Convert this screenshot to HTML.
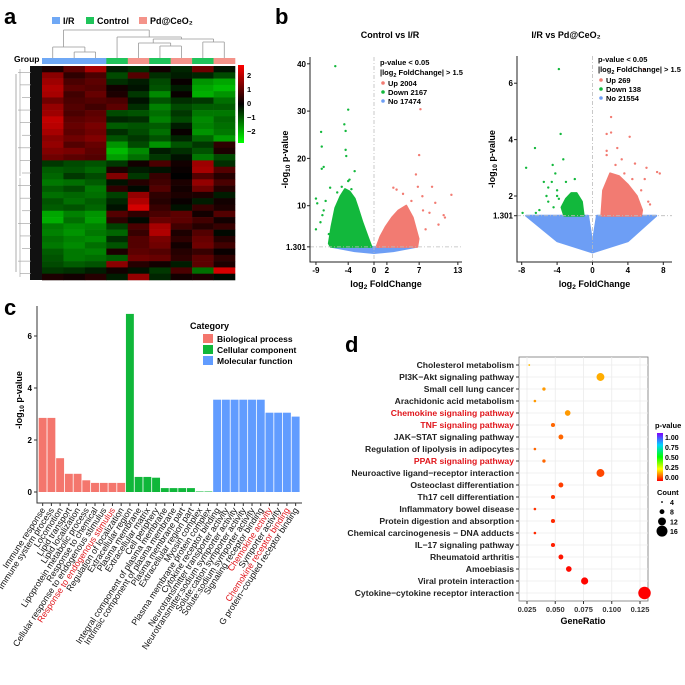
<!DOCTYPE html>
<html><head><meta charset="utf-8"><style>
html,body{margin:0;padding:0;background:#fff;}
svg{display:block;font-family:"Liberation Sans",sans-serif;}
</style></head><body>
<svg id="fig" width="685" height="685" viewBox="0 0 685 685">
<g id="pa"></g>
<g id="pb"></g>
<g id="pc"></g>
<g id="pd"></g>
</svg>
<script>
// ---------- Panel a data ----------
const hmGroups = ["I/R","I/R","I/R","Control","Pd@CeO2","Control","Pd@CeO2","Control","Pd@CeO2"];
const hmRows = [
[0.3,1.0,1.8,-0.3,-0.5,0.2,-0.4,1.2,-0.2],
[1.5,0.5,0.8,-0.8,0.9,-0.5,-0.3,-0.4,-0.8],
[1.7,0.8,1.0,-0.5,-0.3,-0.8,0.1,-1.6,-1.8],
[1.9,1.0,0.9,0.2,-0.2,-0.9,-0.3,-1.8,-2.0],
[1.8,0.7,1.1,0.3,-0.6,-1.5,0.1,-1.9,-1.6],
[1.2,0.8,0.9,0.8,-0.2,-0.9,-0.5,-0.6,-1.2],
[1.6,0.9,0.7,1.0,-0.5,-1.4,-0.8,-1.0,-1.0],
[1.7,0.8,1.0,-0.8,-0.9,-1.2,-0.6,-1.3,-1.3],
[2.1,1.0,1.1,-0.4,-0.5,-1.4,-0.8,-1.5,-1.1],
[2.0,1.1,1.3,-1.0,-0.9,-1.0,-0.3,-1.4,-1.2],
[1.8,1.0,1.2,-0.5,-0.8,-1.2,0.1,-1.6,-1.3],
[1.5,1.2,1.4,-0.9,-0.6,-0.9,-0.4,-1.1,-1.7],
[1.6,0.9,1.1,-1.6,-0.8,-1.6,-0.9,-0.6,0.5],
[1.4,1.3,1.0,-2.0,-1.5,-0.3,-0.5,-0.9,0.3],
[1.2,1.0,0.9,-1.7,-1.2,-0.6,-0.2,-1.3,-0.8],
[-0.6,-0.8,-0.9,-0.6,0.2,0.8,0.2,1.7,-0.5],
[-1.0,-0.9,-1.1,0.3,-0.3,-0.2,0.1,1.8,0.9],
[-1.1,-0.6,-0.8,1.4,-0.6,0.6,0.0,0.9,0.4],
[-1.3,-1.2,-1.0,-0.2,0.4,0.7,0.3,1.6,0.8],
[-1.0,-0.8,-1.3,0.5,-0.1,0.9,0.2,1.2,0.4],
[-1.2,-1.1,-1.2,-0.7,1.6,0.5,0.3,0.3,-0.3],
[-0.9,-1.2,-1.0,-0.4,1.9,0.4,0.1,-0.3,0.2],
[-1.0,-0.9,-1.1,-0.2,2.3,0.6,-0.2,0.6,0.3],
[-1.8,-1.4,-1.6,0.9,0.5,0.8,1.0,0.2,0.9],
[-1.9,-1.2,-1.7,0.5,-0.1,1.1,1.0,0.7,0.2],
[-1.3,-1.5,-1.4,-0.7,0.8,1.8,0.7,0.4,0.6],
[-1.4,-1.6,-1.3,-1.1,0.6,1.9,0.3,0.9,-0.1],
[-1.2,-1.4,-1.5,-0.5,0.9,1.3,0.5,1.1,0.4],
[-1.3,-1.5,-1.2,-0.9,0.9,1.2,0.2,1.2,0.7],
[-1.0,-1.3,-1.4,0.3,1.0,0.9,0.4,0.6,0.1],
[-0.9,-1.3,-1.2,-1.0,1.2,1.1,0.5,1.0,0.5],
[-0.8,-1.0,-0.9,1.5,0.4,0.2,-0.3,1.0,0.3],
[-0.6,-0.5,-0.3,0.2,-0.2,-0.6,0.8,-1.2,2.3],
[0.3,0.2,0.4,-0.3,1.6,-0.4,0.2,0.3,-0.1]
];
const hmTicks = [2,1,0,-1,-2];

// ---------- Panel b data ----------
const v1GreenCloud = [[-0.4,1.3],[-1,3.5],[-1.8,6.5],[-2.5,9.5],[-3,11.5],[-3.8,13],[-4.5,13.5],[-5.2,12],[-6,9.5],[-6.6,5.5],[-7,2],[-6.7,1.3]];
const v1RedCloud = [[0.4,1.3],[1,3.5],[1.8,5.5],[2.8,7.5],[3.8,9],[5,10],[6,7.5],[6.9,3],[6.7,1.3]];
const v1BlueCloud = [[-6.5,1.3],[6.5,1.3],[3,0.4],[0,0],[-3,0.4]];
const v1GreenPts = [[-6,39.5],[-4,30.3],[-4.6,27.2],[-4.4,25.8],[-8.2,25.6],[-8.1,22.5],[-4.4,21.8],[-4.3,20.5],[-7.8,18.2],[-8.1,17.8],[-3,17.3],[-4,15.2],[-3.8,15.5],[-9,11.5],[-8.8,10.5],[-6.8,13.8],[-9,5],[-8.3,6.5],[-7,4],[-5.7,12.8],[-7.8,9],[-6.5,2],[-7.5,11],[-8,8],[-5,14],[-3.5,13.5]];
const v1RedPts = [[7.2,30.4],[7,20.7],[6.5,16.6],[6.8,14],[9,14],[3,13.8],[3.5,13.4],[12,12.3],[10.8,8],[11,7.5],[8.6,8.5],[9.5,10.6],[10,6],[5.8,11],[7.6,9],[8,5],[7.5,12],[4.5,12.5]];
const v1Legend = ["Up 2004","Down 2167","No 17474"];
const v1XTicks = [-9,-4,0,2,7,13];
const v1YTicks = [1.301,10,20,30,40];

const v2GreenCloud = [[-1,1.3],[-1.2,1.8],[-1.8,2.1],[-2.4,2.1],[-3,1.9],[-3.5,1.6],[-3.2,1.3]];
const v2RedCloud = [[1,1.3],[1.2,2.2],[2,2.8],[3,2.7],[4,2.4],[5,2],[5.6,1.5],[5.5,1.3]];
const v2BlueCloud = [[-7.5,1.3],[-0.5,1.3],[0,0.3],[0.5,1.3],[7.2,1.3],[4,0.4],[0,0],[-4,0.4]];
const v2GreenPts = [[-3.8,6.5],[-3.6,4.2],[-6.5,3.7],[-3.3,3.3],[-4.5,3.1],[-7.5,3],[-4.2,2.8],[-2,2.6],[-5.5,2.5],[-3,2.5],[-5,2.3],[-4,2.2],[-6,1.5],[-7.9,1.4],[-6.4,1.4],[-4,2.0],[-5,1.8],[-1.5,1.7],[-4.6,2.5],[-5.2,2.0],[-4.4,1.6],[-3.8,1.9]];
const v2RedPts = [[5.8,6.5],[2.1,4.8],[1.6,4.2],[2.1,4.25],[4.2,4.1],[2.8,3.7],[1.6,3.6],[1.6,3.45],[3.3,3.3],[4.8,3.15],[6.1,3.0],[7.3,2.85],[7.6,2.8],[3.6,2.8],[5.9,2.6],[6.3,1.8],[6.5,1.7],[5.5,2.2],[4.5,2.6],[2.6,3.1]];
const v2Legend = ["Up 269","Down 138","No 21554"];
const v2XTicks = [-8,-4,0,4,8];
const v2YTicks = [1.301,2,4,6];

// ---------- Panel c data ----------
const goTerms = ["Immune response","Immune system process","Locomotion","Lipid transport","Lipid localization","Lipoprotein metabolic process","Response to chemical","Cellular response to endogenous stimulus","Response to endogenous stimulus","Regulation of localization","Extracellular region","Plasma membrane","Extracellular matrix","Cell periphery","Integral component of plasma membrane","Intrinsic component of plasma membrane","Plasma membrane part","Extracellular region part","Myosin complex","Plasma membrane protein complex","Cytokine receptor binding","Neurotransmitter transporter activity","Neurotransmitter:sodium symporter activity","Solute:cation symporter activity","Solute:sodium symporter activity","Signaling receptor binding","Chemokine activity","Symporter activity","Chemokine receptor binding","G protein\u2212coupled receptor binding"];
const goValues = [2.85,2.85,1.3,0.7,0.7,0.45,0.35,0.35,0.35,0.35, 6.85,0.58,0.58,0.55,0.15,0.15,0.15,0.15,0.02,0.02, 3.55,3.55,3.55,3.55,3.55,3.55,3.05,3.05,3.05,2.9];
const goCats = ["BP","BP","BP","BP","BP","BP","BP","BP","BP","BP","CC","CC","CC","CC","CC","CC","CC","CC","CC","CC","MF","MF","MF","MF","MF","MF","MF","MF","MF","MF"];
const goHighlight = [8,26,28];
const goYTicks = [0,2,4,6];

// ---------- Panel d data ----------
const kPaths = ["Cholesterol metabolism","PI3K\u2212Akt signaling pathway","Small cell lung cancer","Arachidonic acid metabolism","Chemokine signaling pathway","TNF signaling pathway","JAK\u2212STAT signaling pathway","Regulation of lipolysis in adipocytes","PPAR signaling pathway","Neuroactive ligand\u2212receptor interaction","Osteoclast differentiation","Th17 cell differentiation","Inflammatory bowel disease","Protein digestion and absorption","Chemical carcinogenesis \u2212 DNA adducts","IL\u221217 signaling pathway","Rheumatoid arthritis","Amoebiasis","Viral protein interaction","Cytokine\u2212cytokine receptor interaction"];
const kRatio = [0.027,0.090,0.040,0.032,0.061,0.048,0.055,0.032,0.040,0.090,0.055,0.048,0.032,0.048,0.032,0.048,0.055,0.062,0.076,0.129];
const kCount = [4,12,6,5,9,7,8,5,6,12,8,7,5,7,5,7,8,9,11,18];
const kP = [0.18,0.17,0.15,0.15,0.15,0.1,0.1,0.1,0.1,0.07,0.06,0.05,0.05,0.04,0.04,0.03,0.02,0.01,0.005,0.0];
const kRed = [4,5,8];
const kXTicks = [0.025,0.050,0.075,0.100,0.125];
const kPTicks = [1.00,0.75,0.50,0.25,0.00];
const kCountTicks = [4,8,12,16];

// ---------- helpers ----------
const NS="http://www.w3.org/2000/svg";
function mk(parent,tag,attrs,text){const e=document.createElementNS(NS,tag);for(const k in attrs)e.setAttribute(k,attrs[k]);if(text!==undefined)e.textContent=text;parent.appendChild(e);return e;}
function nm(e,n){return e;}

// ---------- Panel a ----------
(function(){
const g=document.getElementById('pa');
nm(mk(g,'text',{x:4,y:24,'font-size':22,'font-weight':'bold'},'a'),'panel-label-a');
const legCols=[["I/R","#6fa8f5",52],["Control","#1fc45a",86],["Pd@CeO\u2082","#f4938a",139]];
legCols.forEach(l=>{nm(mk(g,'rect',{x:l[2],y:17,width:8,height:7,fill:l[1]}),'legend-swatch');nm(mk(g,'text',{x:l[2]+11,y:24,'font-size':9,'font-weight':'bold'},l[0]),'legend-entry');});
const X0=42,X1=235,Y0=66,Y1=280,cw=(X1-X0)/hmGroups.length;
const gc={"I/R":"#6fa8f5","Control":"#1fc45a","Pd@CeO2":"#f4938a"};
nm(mk(g,'text',{x:14,y:62,'font-size':8.5,'font-weight':'bold'},'Group'),'group-label');
hmGroups.forEach((grp,i)=>{nm(mk(g,'rect',{x:X0+i*cw,y:58,width:cw+0.3,height:6,fill:gc[grp]}),'group-bar-'+i);});
const cx=i=>X0+cw*(i+0.5);
const dl=[[cx(1),52,cx(2),52],[cx(1),52,cx(1),58],[cx(2),52,cx(2),58],
[cx(0),47,(cx(1)+cx(2))/2,47],[cx(0),47,cx(0),58],[(cx(1)+cx(2))/2,47,(cx(1)+cx(2))/2,52],
[cx(5),46,cx(6),46],[cx(5),46,cx(5),58],[cx(6),46,cx(6),58],
[cx(4),43,(cx(5)+cx(6))/2,43],[cx(4),43,cx(4),58],[(cx(5)+cx(6))/2,43,(cx(5)+cx(6))/2,46],
[cx(7),42,cx(8),42],[cx(7),42,cx(7),58],[cx(8),42,cx(8),58],
[(cx(4)+cx(5))/2+4,39,(cx(7)+cx(8))/2,39],[(cx(4)+cx(5))/2+4,39,(cx(4)+cx(5))/2+4,43],[(cx(7)+cx(8))/2,39,(cx(7)+cx(8))/2,42],
[cx(3),37,(cx(5)+cx(7))/2,37],[cx(3),37,cx(3),58],[(cx(5)+cx(7))/2,37,(cx(5)+cx(7))/2,39],
[(cx(0)+cx(1))/2,30,(cx(3)+cx(6))/2,30],[(cx(0)+cx(1))/2,30,(cx(0)+cx(1))/2,47],[(cx(3)+cx(6))/2,30,(cx(3)+cx(6))/2,37]];
dl.forEach(d=>{nm(mk(g,'line',{x1:d[0],y1:d[1],x2:d[2],y2:d[3],stroke:'#999','stroke-width':0.8}),'column-dendrogram-branch');});
const rh=(Y1-Y0)/hmRows.length;
const col=v=>{const t=Math.min(1,Math.abs(v)/2.6);const c=Math.round(t*240);return v>=0?`rgb(${c},0,0)`:`rgb(0,${c},0)`;};
hmRows.forEach((row,r)=>row.forEach((v,c)=>{nm(mk(g,'rect',{x:X0+c*cw,y:Y0+r*rh,width:cw+0.3,height:rh+0.3,fill:col(v)}),'heatmap-cell');}));
nm(mk(g,'rect',{x:30,y:Y0,width:12,height:Y1-Y0,fill:'#111'}),'row-dendrogram-leaves');
for(let i=0;i<hmRows.length;i+=2){const y=Y0+i*rh+rh;nm(mk(g,'line',{x1:18+(i%6),y1:y,x2:31,y2:y,stroke:'#999','stroke-width':0.6}),'row-dendrogram-branch');}
nm(mk(g,'line',{x1:16,y1:Y0+8,x2:16,y2:Y1-8,stroke:'#999','stroke-width':0.8}),'row-dendrogram-trunk');
nm(mk(g,'line',{x1:20,y1:Y0+3,x2:20,y2:Y0+110,stroke:'#999','stroke-width':0.6}),'row-dendrogram-branch');
nm(mk(g,'line',{x1:20,y1:Y0+112,x2:20,y2:Y1-3,stroke:'#999','stroke-width':0.6}),'row-dendrogram-branch');
const defs=mk(g,'defs',{});const lg=mk(defs,'linearGradient',{id:'hmg',x1:0,y1:0,x2:0,y2:1});
mk(lg,'stop',{offset:'0','stop-color':'#ff0000'});mk(lg,'stop',{offset:'0.5','stop-color':'#000'});mk(lg,'stop',{offset:'1','stop-color':'#00ff00'});
nm(mk(g,'rect',{x:238,y:65,width:6,height:78,fill:'url(#hmg)'}),'heatmap-colorbar');
hmTicks.forEach(t=>{const y=103-t*14;nm(mk(g,'text',{x:247,y:y+3,'font-size':7.5,'font-weight':'bold'},t<0?'\u2212'+(-t):String(t)),'colorbar-tick');});
})();

// ---------- Panel b ----------
function volcano(g,o){
const sx=v=>o.x0+v*o.kx, sy=v=>o.y0-v*o.ky;
nm(mk(g,'text',{x:o.tx,y:38,'font-size':9,'font-weight':'bold','text-anchor':'middle'},o.title),'volcano-title');
const poly=(pts,c,n)=>nm(mk(g,'polygon',{points:pts.map(p=>sx(p[0])+','+sy(p[1])).join(' '),fill:c,stroke:c,'stroke-width':2,'stroke-linejoin':'round'}),n);
poly(o.blue,'#6d9ef5','no-change-cloud');poly(o.green,'#12b83c','down-cloud');poly(o.red,'#f27b72','up-cloud');
o.gp.forEach(p=>nm(mk(g,'circle',{cx:sx(p[0]),cy:sy(p[1]),r:1.2,fill:'#12b83c'}),'down-point'));
o.rp.forEach(p=>nm(mk(g,'circle',{cx:sx(p[0]),cy:sy(p[1]),r:1.2,fill:'#f27b72'}),'up-point'));
nm(mk(g,'line',{x1:o.L,y1:sy(1.301),x2:o.R,y2:sy(1.301),stroke:'#bbb','stroke-width':0.8,'stroke-dasharray':'4,2,1,2'}),'threshold-line');
nm(mk(g,'line',{x1:sx(0),y1:o.T,x2:sx(0),y2:o.B,stroke:'#bbb','stroke-width':0.8,'stroke-dasharray':'4,2,1,2'}),'zero-line');
nm(mk(g,'path',{d:`M${o.L},${o.T} V${o.B} H${o.R}`,fill:'none',stroke:'#222','stroke-width':1}),'axes');
o.xt.forEach(t=>{nm(mk(g,'line',{x1:sx(t),y1:o.B,x2:sx(t),y2:o.B+3,stroke:'#222'}),'x-tick');nm(mk(g,'text',{x:sx(t),y:o.B+11,'font-size':8,'font-weight':'bold','text-anchor':'middle'},t<0?'-'+(-t):String(t)),'x-tick-label');});
o.yt.forEach(t=>{nm(mk(g,'line',{x1:o.L-3,y1:sy(t),x2:o.L,y2:sy(t),stroke:'#222'}),'y-tick');nm(mk(g,'text',{x:o.L-4,y:sy(t)+3,'font-size':8,'font-weight':'bold','text-anchor':'end'},String(t)),'y-tick-label');});
const xl=nm(mk(g,'text',{x:(o.L+o.R)/2,y:o.B+25,'font-size':9,'font-weight':'bold','text-anchor':'middle'}),'x-axis-title');
xl.innerHTML='log<tspan font-size="6.5" dy="2">2</tspan><tspan dy="-2"> FoldChange</tspan>';
const yl=nm(mk(g,'text',{x:0,y:0,'font-size':9,'font-weight':'bold','text-anchor':'middle',transform:`translate(${o.L-22},${(o.T+o.B)/2}) rotate(-90)`}),'y-axis-title');
yl.innerHTML='-log<tspan font-size="6.5" dy="2">10</tspan><tspan dy="-2"> p-value</tspan>';
const lx=o.lx,ly=o.ly;
nm(mk(g,'text',{x:lx,y:ly,'font-size':7.5,'font-weight':'bold'},'p-value < 0.05'),'legend-threshold');
const l2=nm(mk(g,'text',{x:lx,y:ly+10,'font-size':7.5,'font-weight':'bold'}),'legend-threshold-fc');
l2.innerHTML='|log<tspan font-size="5.5" dy="2">2</tspan><tspan dy="-2"> FoldChange| &gt; 1.5</tspan>';
const lc=['#f27b72','#12b83c','#6d9ef5'];
o.leg.forEach((s,i)=>{nm(mk(g,'circle',{cx:lx+3,cy:ly+18+i*9,r:1.8,fill:lc[i]}),'legend-dot');nm(mk(g,'text',{x:lx+8,y:ly+21+i*9,'font-size':7.5,'font-weight':'bold'},s),'legend-entry');});
}
(function(){
const g=document.getElementById('pb');
nm(mk(g,'text',{x:275,y:24,'font-size':22,'font-weight':'bold'},'b'),'panel-label-b');
const g1=nm(mk(g,'g',{}),'volcano-control-vs-ir');
volcano(g1,{title:'Control vs I/R',tx:390,x0:374,kx:6.45,y0:253,ky:4.73,L:310,R:462,T:57,B:262,xt:v1XTicks,yt:v1YTicks,green:v1GreenCloud,red:v1RedCloud,blue:v1BlueCloud,gp:v1GreenPts,rp:v1RedPts,leg:v1Legend,lx:380,ly:65});
const g2=nm(mk(g,'g',{}),'volcano-ir-vs-pdceo2');
volcano(g2,{title:'I/R vs Pd@CeO\u2082',tx:566,x0:592.5,kx:8.85,y0:252.4,ky:28.2,L:517,R:672,T:56,B:262,xt:v2XTicks,yt:v2YTicks,green:v2GreenCloud,red:v2RedCloud,blue:v2BlueCloud,gp:v2GreenPts,rp:v2RedPts,leg:v2Legend,lx:598,ly:62});
})();

// ---------- Panel c ----------
(function(){
const g=document.getElementById('pc');
nm(mk(g,'text',{x:4,y:315,'font-size':22,'font-weight':'bold'},'c'),'panel-label-c');
const L=37,B=503,X0=38.3,bw=(300-38.3)/goValues.length;
const sy=v=>492-v*26;
const cc={BP:'#f4766d',CC:'#10b73a',MF:'#619cff'};
goValues.forEach((v,i)=>{nm(mk(g,'rect',{x:X0+i*bw+0.4,y:sy(v),width:bw-0.8,height:492-sy(v),fill:cc[goCats[i]]}),'bar-'+i);});
nm(mk(g,'path',{d:`M${L},306 V${B} H302`,fill:'none',stroke:'#333','stroke-width':1}),'axes');
goYTicks.forEach(t=>{nm(mk(g,'line',{x1:L-3,y1:sy(t),x2:L,y2:sy(t),stroke:'#333'}),'y-tick');nm(mk(g,'text',{x:L-5,y:sy(t)+3,'font-size':8,'font-weight':'bold','text-anchor':'end'},String(t)),'y-tick-label');});
goTerms.forEach((t,i)=>{const x=X0+(i+0.5)*bw;nm(mk(g,'line',{x1:x,y1:B,x2:x,y2:B+3,stroke:'#333'}),'x-tick');
nm(mk(g,'text',{x:0,y:0,'font-size':8.8,'text-anchor':'end',fill:goHighlight.includes(i)?'#e0151b':'#111',transform:`translate(${x+3},${B+7}) rotate(-57)`},t),'x-tick-label');});
const yl=nm(mk(g,'text',{x:0,y:0,'font-size':9,'font-weight':'bold','text-anchor':'middle',transform:`translate(22,400) rotate(-90)`}),'y-axis-title');
yl.innerHTML='-log<tspan font-size="6.5" dy="2">10</tspan><tspan dy="-2"> p-value</tspan>';
nm(mk(g,'text',{x:190,y:329,'font-size':9,'font-weight':'bold'},'Category'),'legend-title');
[['Biological process','#f4766d'],['Cellular component','#10b73a'],['Molecular function','#619cff']].forEach((l,i)=>{
nm(mk(g,'rect',{x:203,y:334+i*11,width:10,height:9,fill:l[1]}),'legend-swatch');
nm(mk(g,'text',{x:217,y:342+i*11,'font-size':8.5,'font-weight':'bold'},l[0]),'legend-entry');});
})();

// ---------- Panel d ----------
(function(){
const g=document.getElementById('pd');
nm(mk(g,'text',{x:345,y:352,'font-size':22,'font-weight':'bold'},'d'),'panel-label-d');
const L=519,R=648,T=357,B=601;
const sx=v=>527+(v-0.025)*1130, sy=i=>365+i*12;
nm(mk(g,'rect',{x:L,y:T,width:R-L,height:B-T,fill:'#fff',stroke:'#777','stroke-width':0.8}),'plot-panel');
kXTicks.forEach(t=>nm(mk(g,'line',{x1:sx(t),y1:T,x2:sx(t),y2:B,stroke:'#ebebeb','stroke-width':0.8}),'grid-x'));
kPaths.forEach((p,i)=>nm(mk(g,'line',{x1:L,y1:sy(i),x2:R,y2:sy(i),stroke:'#ebebeb','stroke-width':0.8}),'grid-y'));
const hue=p=>{const s=[[0,0],[0.25,60],[0.5,120],[0.75,190],[1,270]];for(let k=1;k<s.length;k++){if(p<=s[k][0]){const a=s[k-1],b=s[k];return a[1]+(p-a[0])/(b[0]-a[0])*(b[1]-a[1]);}}return 270;};
const col=p=>`hsl(${hue(p)},100%,50%)`;
const rad=c=>Math.max(0.8,c*0.38-0.6);
kPaths.forEach((p,i)=>{
nm(mk(g,'text',{x:514,y:sy(i)+3,'font-size':8.6,'font-weight':'bold','text-anchor':'end',fill:kRed.includes(i)?'#e0151b':'#222'},p),'pathway-label');
nm(mk(g,'line',{x1:L-3,y1:sy(i),x2:L,y2:sy(i),stroke:'#333'}),'y-tick');
nm(mk(g,'circle',{cx:sx(kRatio[i]),cy:sy(i),r:rad(kCount[i]),fill:col(kP[i])}),'dot-'+i);});
kXTicks.forEach(t=>{nm(mk(g,'line',{x1:sx(t),y1:B,x2:sx(t),y2:B+3,stroke:'#333'}),'x-tick');nm(mk(g,'text',{x:sx(t),y:B+11,'font-size':7.5,'font-weight':'bold','text-anchor':'middle',fill:'#333'},t.toFixed(3)),'x-tick-label');});
nm(mk(g,'text',{x:583,y:B+23,'font-size':9,'font-weight':'bold','text-anchor':'middle'},'GeneRatio'),'x-axis-title');
nm(mk(g,'text',{x:655,y:428,'font-size':7.5,'font-weight':'bold'},'p-value'),'color-legend-title');
const defs=mk(g,'defs',{});const lg=mk(defs,'linearGradient',{id:'pg',x1:0,y1:0,x2:0,y2:1});
[1,0.75,0.5,0.25,0].forEach((p,k)=>mk(lg,'stop',{offset:String(k/4),'stop-color':col(p)}));
nm(mk(g,'rect',{x:657,y:433,width:6,height:48,fill:'url(#pg)'}),'p-value-colorbar');
kPTicks.forEach(t=>{const y=437+(1-t)*40;nm(mk(g,'text',{x:665,y:y+3,'font-size':7,'font-weight':'bold'},t.toFixed(2)),'colorbar-tick');});
nm(mk(g,'text',{x:657,y:495,'font-size':7.5,'font-weight':'bold'},'Count'),'size-legend-title');
kCountTicks.forEach((c,k)=>{const y=502+k*9.7;nm(mk(g,'circle',{cx:662,cy:y,r:rad(c),fill:'#000'}),'size-legend-dot');nm(mk(g,'text',{x:670,y:y+3,'font-size':7,'font-weight':'bold'},String(c)),'size-legend-label');});
})();
</script>
</body></html>
